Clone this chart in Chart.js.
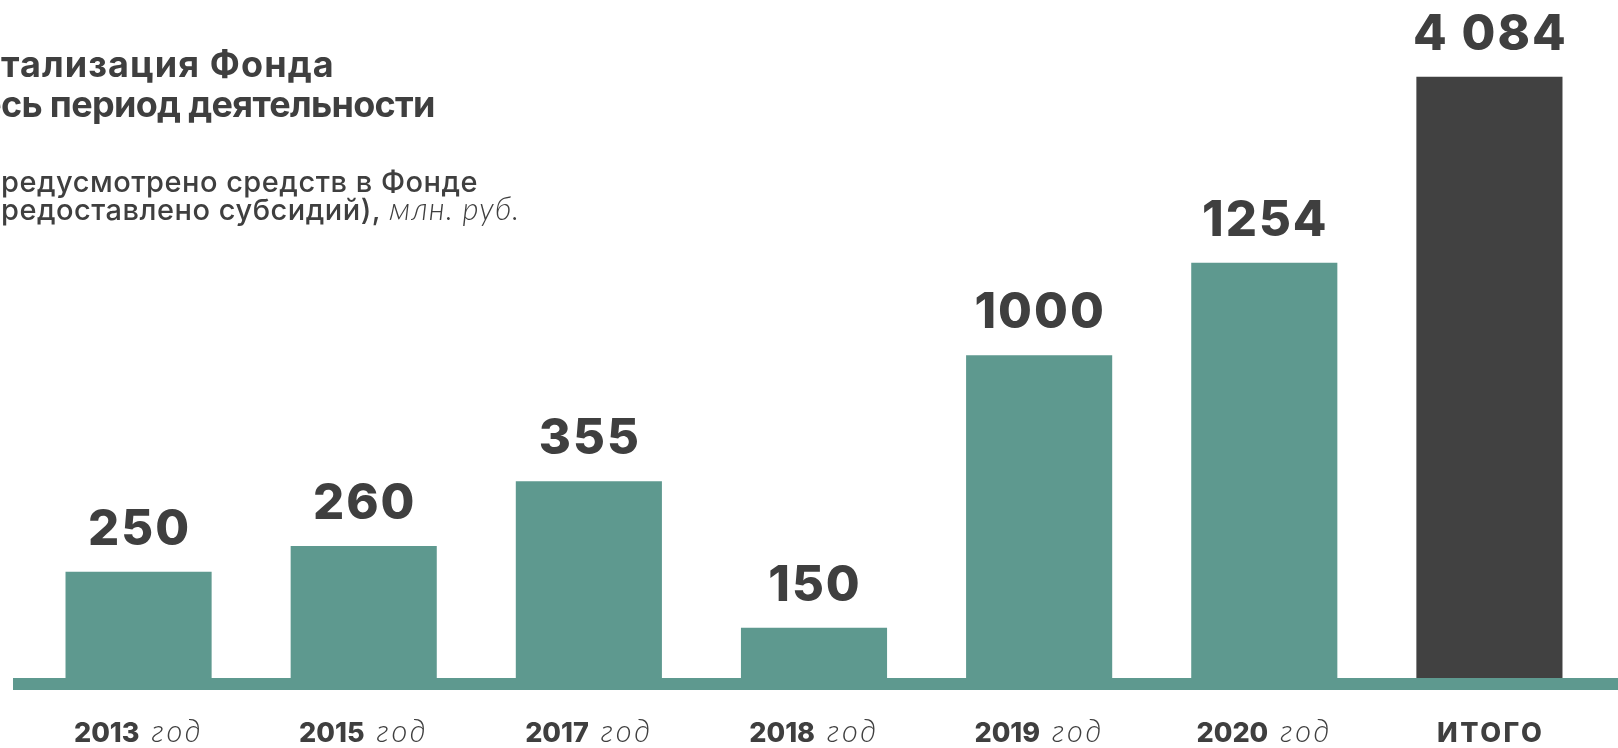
<!DOCTYPE html>
<html lang="ru">
<head>
<meta charset="utf-8">
<script src="https://cdn.jsdelivr.net/npm/chart.js@4/dist/chart.umd.min.js"></script>
<style>
  html, body { margin: 0; padding: 0; background: #fff; }
  #wrap { width: 1618px; height: 748px; position: relative; overflow: hidden; }
</style>
</head>
<body>
<div id="wrap"><canvas id="chart" width="1618" height="748"></canvas></div>
<script>
const categories = ["2013", "2015", "2017", "2018", "2019", "2020", "ИТОГО"];
const yearSuffix = ["год", "год", "год", "год", "год", "год", ""];
const amounts = [250, 260, 355, 150, 1000, 1254, 4084];
const amountLabels = ["250", "260", "355", "150", "1000", "1254", "4 084"];
// the infographic is not to scale: bar lengths as drawn, in % of plot height
const barLevels = [16.1, 20.0, 29.8, 7.6, 48.9, 62.9, 91.1];

const titleLines = ["Капитализация Фонда", "за весь период деятельности"];
const subtitleLines = ["Предусмотрено средств в Фонде", "(предоставлено субсидий),"];
const unitText = "млн. руб.";

const TEAL = "#5e998f";
const DARK = "#414141";
const TEXT = "#3f3f3f";

const barColors = categories.map((c, i) => i === categories.length - 1 ? DARK : TEAL);

// draw text whose start is pushed past the left edge by the width of `hidden`
function clippedText(ctx, text, hidden, y, spacing) {
  ctx.letterSpacing = spacing + "px";
  const x = 1 - ctx.measureText(hidden).width;
  ctx.fillText(text, x, y);
  return x;
}

const infographic = {
  id: "infographic",
  beforeDatasetsDraw(chart) {
    const ctx = chart.ctx;
    const y0 = chart.scales.y.getPixelForValue(0);
    ctx.save();
    ctx.fillStyle = TEAL;
    ctx.fillRect(13, y0, chart.width, 12);
    ctx.restore();
  },
  afterDatasetsDraw(chart) {
    const ctx = chart.ctx;
    ctx.save();
    ctx.fillStyle = TEXT;
    ctx.textBaseline = "alphabetic";
    ctx.textAlign = "left";

    // title, cut off at the left edge like the source
    ctx.font = "700 36px Inter";
    clippedText(ctx, titleLines[0], "Капи", 77, 1.1);
    clippedText(ctx, titleLines[1], "за ве", 117, -0.7);

    ctx.font = "500 29px Inter";
    clippedText(ctx, subtitleLines[0], "П", 192, 0.5);
    const x4 = clippedText(ctx, subtitleLines[1], "(п", 220, 0.5);
    const w4 = ctx.measureText(subtitleLines[1] + " ").width;
    ctx.font = "italic 300 31px Lato";
    ctx.letterSpacing = "1px";
    ctx.fillText(unitText, x4 + w4, 220);
    ctx.letterSpacing = "0px";

    // value labels above bars
    const meta = chart.getDatasetMeta(0);
    ctx.font = "800 49px Inter";
    ctx.textAlign = "center";
    ctx.letterSpacing = "2px";
    meta.data.forEach((bar, i) => {
      ctx.fillText(amountLabels[i], bar.x + 1, bar.y - 27);
    });

    // category labels: bold year + light italic "год"
    const xs = chart.scales.x;
    ctx.textAlign = "left";
    categories.forEach((c, i) => {
      const cx = xs.getPixelForValue(i);
      const sp = yearSuffix[i] ? 0 : 2.5;
      ctx.font = "800 27px Inter";
      ctx.letterSpacing = sp + "px";
      const wb = ctx.measureText(c).width - sp;
      let wl = 0, gap = 0;
      if (yearSuffix[i]) {
        ctx.font = "italic 300 31px Lato";
        ctx.letterSpacing = "2.5px";
        wl = ctx.measureText(yearSuffix[i]).width;
        gap = 12;
      }
      const start = cx - (wb + gap + wl) / 2;
      ctx.font = "800 27px Inter";
      ctx.letterSpacing = sp + "px";
      ctx.fillText(c, start, 742);
      if (yearSuffix[i]) {
        ctx.font = "italic 300 31px Lato";
        ctx.letterSpacing = "2.5px";
        ctx.fillText(yearSuffix[i], start + wb + gap, 742);
      }
    });
    ctx.restore();
  }
};

new Chart(document.getElementById("chart"), {
  type: "bar",
  data: {
    labels: categories,
    datasets: [{
      label: "млн. руб.",
      data: barLevels,
      backgroundColor: barColors,
      borderWidth: 0,
      barPercentage: 0.649,
      categoryPercentage: 1
    }]
  },
  options: {
    responsive: false,
    animation: false,
    devicePixelRatio: 1,
    layout: { padding: { left: 26, right: 16, top: 18, bottom: 70 } },
    plugins: { legend: { display: false }, tooltip: { enabled: false } },
    scales: {
      x: { display: false, offset: true },
      y: { display: false, min: 0, max: 100 }
    }
  },
  plugins: [infographic]
});
</script>
</body>
</html>
